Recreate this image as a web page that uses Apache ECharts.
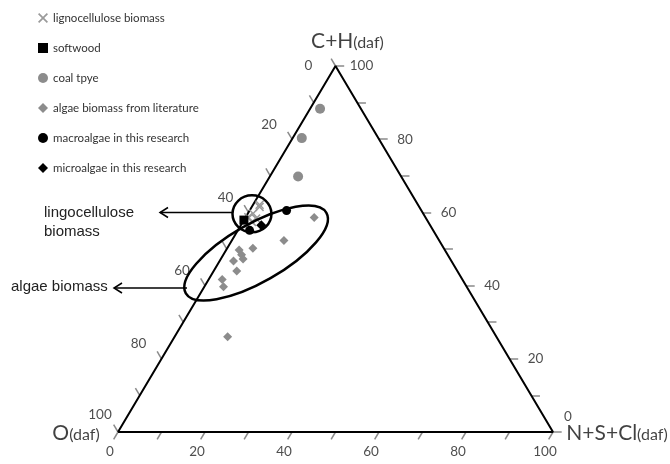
<!DOCTYPE html>
<html><head><meta charset="utf-8">
<script src="https://cdn.jsdelivr.net/npm/echarts@6/dist/echarts.min.js"></script>
<style>html,body{margin:0;padding:0;background:#fff}#c{width:670px;height:464px}</style>
</head><body><div id="c"></div>
<script>
// Ternary values, each point [O, C+H, N+S+Cl] (daf, %)
const lignocellulose = [[40.7,58.7,0.6],[39.1,59.7,1.2],[36.7,61.5,1.8],[39.1,58.3,2.6],[36.4,62.1,1.5],[40.5,57.4,2.1]];
const softwood = [[42.1,57.9,0.0]];
const coal = [[9.4,88.3,2.3],[17.6,80.3,2.1],[23.7,69.8,6.5]];
const algaeLiterature = [[25.6,58.6,15.8],[35.7,52.3,12.0],[43.9,50.2,5.9],[47.3,49.7,3.0],[47.4,48.4,4.2],[47.6,47.3,5.1],[50.1,46.7,3.2],[50.7,44.0,5.3],[55.2,41.7,3.1],[55.9,39.7,4.4],[61.8,26.0,12.2]];
const macroalgae = [[42.2,55.1,2.7],[31.0,60.5,8.5]];
const microalgae = [[38.8,56.5,4.7]];
const tickValues = [0,10,20,30,40,50,60,70,80,90,100];
const tickLabels = [0,20,40,60,80,100];
const corners = {O:[100,0,0], CH:[0,100,0], N:[0,0,100]};
// region centres (ternary)
const lignoRegion = [39.4,59.6,1.0];
const algaeRegion = [43.8,48.9,7.3];

const FONT = 'Lato, "Open Sans", sans-serif';
const GRAY = '#8c8c8c';
function toXY(p){ return [p[2] + p[1]/2, p[1]]; }
const pts = arr => arr.map(toXY);

const TL = 2; // tick length in ternary units
const ticksData = [];
tickValues.forEach(v => {
  ticksData.push({coords:[toXY([v,100-v,0]), toXY([v,100-v+TL,-TL])]});
  ticksData.push({coords:[toXY([0,v,100-v]), toXY([-TL,v,100-v+TL])]});
  ticksData.push({coords:[toXY([100-v,0,v]), toXY([100-v+TL,-TL,v])]});
});

const labelData = [];
tickLabels.forEach(v => {
  labelData.push({name:String(v), value:toXY([v,100-v,0]), label:{offset: v===0?[-27,0]:(v===100?[-18,-17]:[-23,-15])}});
  labelData.push({name:String(v), value:toXY([0,v,100-v]), label:{offset: v===0?[15,-15]:[26,0]}});
  labelData.push({name:String(v), value:toXY([100-v,0,v]), label:{offset:[-8,20]}});
});

const XPATH = 'path://M0,1.2L1.2,0L5,3.8L8.8,0L10,1.2L6.2,5L10,8.8L8.8,10L5,6.2L1.2,10L0,8.8L3.8,5Z';

const chart = echarts.init(document.getElementById('c'), null, {renderer:'canvas'});
const option = {
  animation:false,
  backgroundColor:'#fff',
  grid:{left:118, right:117, top:66, bottom:32},
  xAxis:{type:'value', min:0, max:100, show:false},
  yAxis:{type:'value', min:0, max:100, show:false},
  legend:{
    orient:'vertical', left:33, top:6, itemWidth:10, itemHeight:10, itemGap:16,
    textStyle:{fontSize:11.5, color:'#333', fontFamily:FONT, lineHeight:14},
    data:['lignocellulose biomass','softwood','coal tpye','algae biomass from literature','macroalgae in this research','microalgae in this research']
  },
  series:[
    {type:'line', name:'frame', data:pts([corners.O, corners.N, corners.CH, corners.O]), symbol:'none', clip:false,
     lineStyle:{color:'#000', width:2}, z:3, silent:true},
    {type:'lines', coordinateSystem:'cartesian2d', data:ticksData, clip:false, silent:true,
     lineStyle:{color:'#8a8a8a', width:1.5, opacity:1}},
    {type:'scatter', name:'ticklabels', data:labelData, symbolSize:1, clip:false, silent:true,
     itemStyle:{color:'rgba(0,0,0,0)'},
     label:{show:true, position:'inside', formatter:p=>p.name, fontSize:13.5, color:'#222', fontFamily:FONT}},
    {type:'scatter', name:'vertices', clip:false, silent:true, symbolSize:1, itemStyle:{color:'rgba(0,0,0,0)'},
     data:[
      {name:'C+H', value:toXY(corners.CH), label:{offset:[12,-25]}},
      {name:'O', value:toXY(corners.O), label:{offset:[-42,1]}},
      {name:'N+S+Cl', value:toXY(corners.N), label:{offset:[64,1]}}
     ],
     label:{show:true, position:'inside', formatter:p=>'{a|'+p.name+'}{b|(daf)}', color:'#111',
       rich:{a:{fontSize:21, fontFamily:FONT, color:'#111', verticalAlign:'bottom'}, b:{fontSize:16, fontFamily:FONT, color:'#111', verticalAlign:'bottom', padding:[0,0,1,0]}}}},
    {type:'scatter', name:'lignocellulose biomass', data:pts(lignocellulose), symbol:XPATH, symbolSize:9, itemStyle:{color:'#9a9a9a', opacity:1}, z:4},
    {type:'scatter', name:'softwood', data:pts(softwood), symbol:'rect', symbolSize:9, itemStyle:{color:'#000', opacity:1}, z:6},
    {type:'scatter', name:'coal tpye', data:pts(coal), symbol:'circle', symbolSize:10, itemStyle:{color:GRAY, opacity:1}, z:4},
    {type:'scatter', name:'algae biomass from literature', data:pts(algaeLiterature), symbol:'diamond', symbolSize:9, itemStyle:{color:GRAY, opacity:1}, z:4},
    {type:'scatter', name:'macroalgae in this research', data:pts(macroalgae), symbol:'circle', symbolSize:9, itemStyle:{color:'#000', opacity:1}, z:6},
    {type:'scatter', name:'microalgae in this research', data:pts(microalgae), symbol:'diamond', symbolSize:10, itemStyle:{color:'#000', opacity:1}, z:6}
  ]
};
chart.setOption(option);

const c1 = chart.convertToPixel({gridIndex:0}, toXY(lignoRegion));
const c2 = chart.convertToPixel({gridIndex:0}, toXY(algaeRegion));
chart.setOption({graphic:[
  {type:'ellipse', x:c1[0], y:c1[1], shape:{cx:0, cy:0, rx:19.5, ry:18.5}, style:{fill:'none', stroke:'#000', lineWidth:2.5}, z:100},
  {type:'ellipse', x:c2[0], y:c2[1], rotation:0.52, shape:{cx:0, cy:0, rx:81, ry:29}, style:{fill:'none', stroke:'#000', lineWidth:2.5}, z:100},
  {type:'polyline', shape:{points:[[c1[0]-19,212.5],[160,212.5]]}, style:{stroke:'#000', lineWidth:1.5, fill:'none'}, z:100},
  {type:'polyline', shape:{points:[[168,207.5],[160,212.5],[168,217.5]]}, style:{stroke:'#000', lineWidth:1.5, fill:'none'}, z:100},
  {type:'polyline', shape:{points:[[187,288],[114,288]]}, style:{stroke:'#000', lineWidth:1.5, fill:'none'}, z:100},
  {type:'polyline', shape:{points:[[122,283],[114,288],[122,293]]}, style:{stroke:'#000', lineWidth:1.5, fill:'none'}, z:100},
  {type:'text', left:44, top:203, style:{text:'lingocellulose\nbiomass', fontSize:15, lineHeight:19, fill:'#222', font:'15px '+FONT}, z:100},
  {type:'text', left:11, top:279, style:{text:'algae biomass', fontSize:15, fill:'#222', font:'15px '+FONT}, z:100}
]});
</script></body></html>
